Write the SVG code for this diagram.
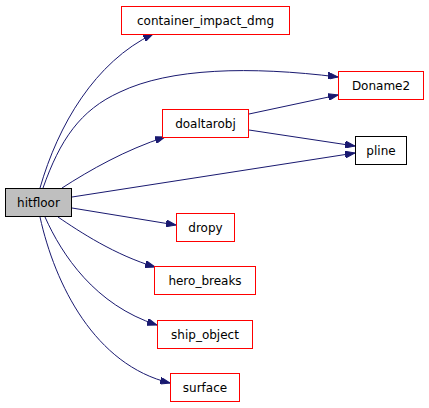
<svg xmlns="http://www.w3.org/2000/svg" width="429" height="408" viewBox="0 0 429 408">
<defs>
<marker id="ah" markerWidth="10" markerHeight="7" refX="10" refY="3.5" orient="auto" markerUnits="userSpaceOnUse">
<path d="M0,0 L10,3.5 L0,7 Z" fill="#191970" stroke="#191970" stroke-width="1"/>
</marker>
<style>
.n rect{fill:#fff;stroke:#ff0000;stroke-width:1}
.n text{font-family:"DejaVu Sans",sans-serif;font-size:12px;text-anchor:middle;fill:#000}
.e path{fill:none;stroke:#191970;stroke-width:1;marker-end:url(#ah)}
</style>
</defs>
<rect width="429" height="408" fill="#fff"/>
<g id="edges" class="e">
<path d="M40,188 C58,125 95,62 153,34"/>
<path d="M43,188 C60,140 80,110 120,92 C170,68 250,66 338,77"/>
<path d="M62,188 C90,170 125,150 165,137"/>
<path d="M249,114 L338,95"/>
<path d="M249,130 L355,146"/>
<path d="M72,197 L355,153"/>
<path d="M72,208 L176,225"/>
<path d="M58,217 C80,232 115,255 155,267"/>
<path d="M45,217 C62,255 95,305 157,325"/>
<path d="M40,217 C55,285 95,365 170,383"/>
</g>
<g id="hitfloor" class="n"><rect x="5.5" y="188.5" width="66" height="28" style="fill:#bfbfbf;stroke:#000"/><text x="38.5" y="207">hitfloor</text></g>
<g id="container_impact_dmg" class="n"><rect x="121.5" y="6.5" width="168" height="28"/><text x="205.5" y="24.5">container_impact_dmg</text></g>
<g id="Doname2" class="n"><rect x="338.5" y="71.5" width="85" height="28"/><text x="381" y="89.5">Doname2</text></g>
<g id="doaltarobj" class="n"><rect x="162.5" y="109.5" width="86" height="28"/><text x="205.5" y="127.5">doaltarobj</text></g>
<g id="pline" class="n"><rect x="355.5" y="136.5" width="51" height="28" style="stroke:#000"/><text x="381" y="154.5">pline</text></g>
<g id="dropy" class="n"><rect x="176.5" y="213.5" width="58" height="28"/><text x="205.5" y="231.5">dropy</text></g>
<g id="hero_breaks" class="n"><rect x="154.5" y="266.5" width="101" height="28"/><text x="205" y="284.5">hero_breaks</text></g>
<g id="ship_object" class="n"><rect x="157.5" y="320.5" width="95" height="28"/><text x="205" y="338.5">ship_object</text></g>
<g id="surface" class="n"><rect x="170.5" y="373.5" width="69" height="28"/><text x="205" y="391.5">surface</text></g>
</svg>
